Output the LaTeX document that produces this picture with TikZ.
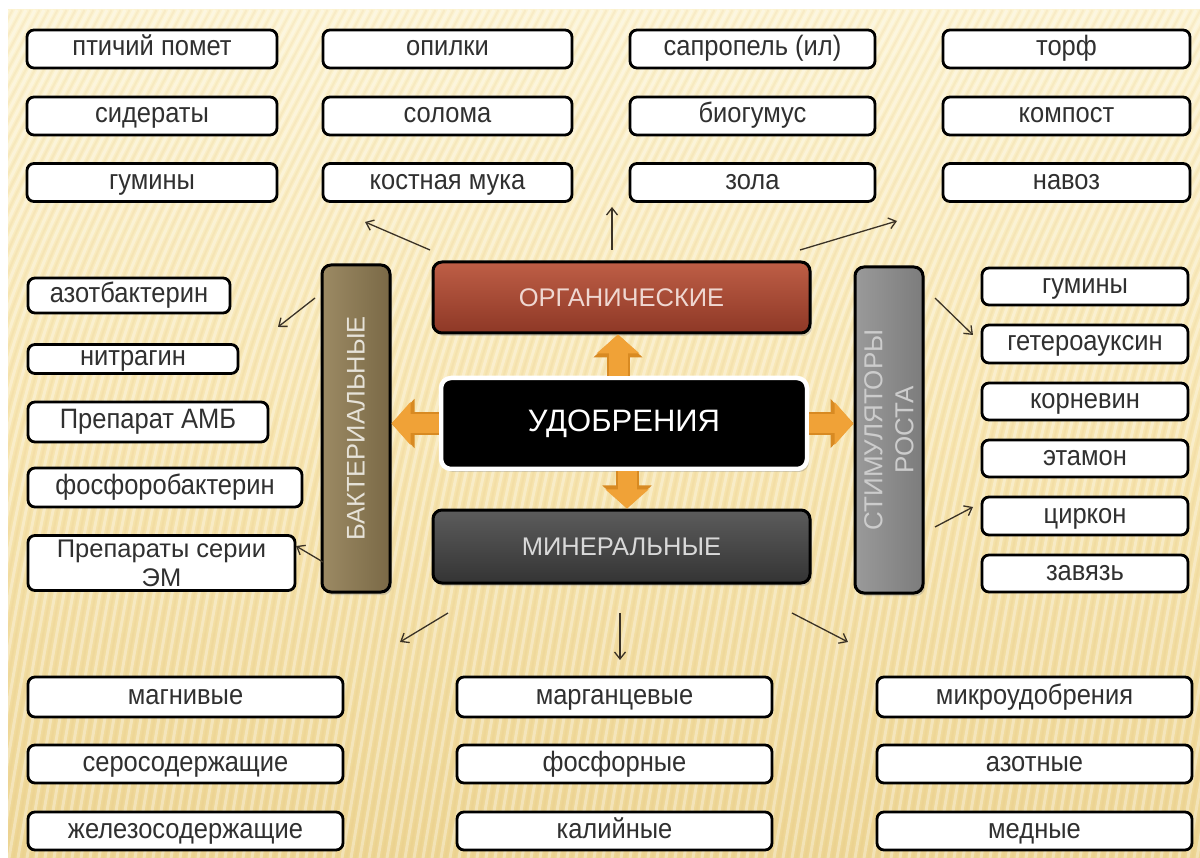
\documentclass[tikz,border=0pt]{standalone}
\usepackage{fontspec}
\setmainfont{Liberation Sans}
\usetikzlibrary{arrows.meta,shadows,calc}
\definecolor{bgtop}{HTML}{FCF3D2}
\definecolor{bgmid}{HTML}{F7E5B0}
\definecolor{bgbot}{HTML}{EDD593}
\definecolor{txt}{HTML}{303030}
\definecolor{orgtop}{HTML}{BE5E46}
\definecolor{orgbot}{HTML}{8E3826}
\definecolor{mintop}{HTML}{5C5C5C}
\definecolor{minbot}{HTML}{343434}
\definecolor{baktop}{HTML}{9C8A64}
\definecolor{bakbot}{HTML}{7A6946}
\definecolor{stitop}{HTML}{9A9A9A}
\definecolor{stibot}{HTML}{7C7C7C}
\definecolor{arrorange}{HTML}{F0A237}
\definecolor{arredge}{HTML}{D88A22}
\definecolor{thinarr}{HTML}{3A3226}
\newcommand{\wnode}[6]{\node[wb, minimum width=#4pt, minimum height=#5pt] (#1) at (#2,#3) {\scalebox{1}[1.1]{#6}};}
\tikzset{
  wb/.style={draw=black, fill=white, line width=2.8pt, rounded corners=7pt, inner sep=0pt,
    text=txt, font=\fontsize{25.5}{29}\selectfont, text height=14pt, text depth=0pt},
  bigbox/.style={draw=black, line width=3pt, rounded corners=9pt, inner sep=0pt,
    drop shadow={opacity=0.3, shadow xshift=2pt, shadow yshift=-3pt}},
  blockedge/.style={line width=23pt, color=arredge, -{Triangle[width=48pt,length=23pt]}},
  blockarr/.style={line width=19pt, color=arrorange, -{Triangle[width=42pt,length=19pt]}},
  thin/.style={draw=thinarr, line width=1.3pt, -{Straight Barb[length=7pt,width=11pt]}},
}
\begin{document}
\begin{tikzpicture}[x=1pt,y=-1pt]
\useasboundingbox (0,0) rectangle (1200,858);
\fill[white] (0,0) rectangle (1200,858);
% background
\fill[top color=bgtop, bottom color=bgbot, middle color=bgmid] (8,10) rectangle (1200,858);
\begin{scope}
\clip (8,10) rectangle (1200,858);
\foreach \i in {-40,...,150} {
  \draw[white, opacity=0.32, line width=3pt] ({\i*9+260},10) .. controls ({\i*9+90},330) .. ({\i*9},858);
  \draw[bgbot!75!brown, opacity=0.14, line width=2pt] ({\i*9+264.5},10) .. controls ({\i*9+94.5},330) .. ({\i*9+4.5},858);
}
\end{scope}

% top boxes
\wnode{t11}{152}{49}{250}{38}{птичий помет}
\wnode{t12}{152}{116}{250}{38}{сидераты}
\wnode{t13}{152}{182.5}{250}{38}{гумины}
\wnode{t21}{447.5}{49}{249}{38}{опилки}
\wnode{t22}{447.5}{116}{249}{38}{солома}
\wnode{t23}{447.5}{182.5}{249}{38}{костная мука}
\wnode{t31}{752.5}{49}{245}{38}{сапропель (ил)}
\wnode{t32}{752.5}{116}{245}{38}{биогумус}
\wnode{t33}{752.5}{182.5}{245}{38}{зола}
\wnode{t41}{1066.5}{49}{247}{38}{торф}
\wnode{t42}{1066.5}{116}{247}{38}{компост}
\wnode{t43}{1066.5}{182.5}{247}{38}{навоз}

% left boxes
\wnode{l1}{129}{295.5}{202}{35}{азотбактерин}
\wnode{l2}{133}{359}{210}{29}{нитрагин}
\wnode{l3}{148}{422}{240}{40}{Препарат АМБ}
\wnode{l4}{165}{487.5}{274}{39}{фосфоробактерин}
\node[wb, minimum width=267pt, minimum height=55pt, align=center, text height=, text depth=,
  font=\fontsize{25.5}{30}\selectfont] (l5) at (161.5,563) {Препараты серии\\[-1pt]ЭМ};

% right boxes
\wnode{r1}{1085}{286.5}{206}{37}{гумины}
\wnode{r2}{1085}{344}{206}{38}{гетероауксин}
\wnode{r3}{1085}{401.5}{206}{37}{корневин}
\wnode{r4}{1085}{458.5}{206}{37}{этамон}
\wnode{r5}{1085}{516}{206}{38}{циркон}
\wnode{r6}{1085}{573.5}{206}{37}{завязь}

% bottom boxes
\wnode{b11}{185.5}{697}{315}{40}{магнивые}
\wnode{b12}{185.5}{764}{315}{38}{серосодержащие}
\wnode{b13}{185.5}{831}{315}{38}{железосодержащие}
\wnode{b21}{614.5}{697}{315}{40}{марганцевые}
\wnode{b22}{614.5}{764}{315}{38}{фосфорные}
\wnode{b23}{614.5}{831}{315}{38}{калийные}
\wnode{b31}{1034.5}{697}{315}{40}{микроудобрения}
\wnode{b32}{1034.5}{764}{315}{38}{азотные}
\wnode{b33}{1034.5}{831}{315}{38}{медные}

% central boxes
\node[bigbox, top color=orgtop, bottom color=orgbot, minimum width=377pt, minimum height=71pt,
  text=orgtop!25!white, font=\fontsize{25.5}{28}\selectfont] (org) at (621.5,297.5) {ОРГАНИЧЕСКИЕ};
\node[bigbox, top color=mintop, bottom color=minbot, minimum width=377pt, minimum height=73pt,
  text=white!85!black, font=\fontsize{25.5}{28}\selectfont] (min) at (621.5,546.5) {МИНЕРАЛЬНЫЕ};
\node[bigbox, left color=baktop, right color=bakbot, rotate=90, minimum width=327pt, minimum height=68pt,
  text=baktop!25!white, font=\fontsize{25.5}{28}\selectfont] (bakt) at (356,428.5) {БАКТЕРИАЛЬНЫЕ};
\node[bigbox, left color=stitop, right color=stibot, rotate=90, minimum width=326pt, minimum height=68pt,
  align=center, text=white!80!black, font=\fontsize{26}{31}\selectfont] (stim) at (889,430) {СТИМУЛЯТОРЫ\\РОСТА};
\node[draw=white, fill=black, line width=4.5pt, rounded corners=10pt, minimum width=366pt, minimum height=91pt,
  inner sep=0pt, text=white, font=\fontsize{31}{34}\selectfont,
  drop shadow={opacity=0.35, shadow xshift=2pt, shadow yshift=-3pt}] (udob) at (624,423.5) {УДОБРЕНИЯ};

% block arrows
\foreach \st in {blockedge,blockarr} {
  \draw[\st] ([xshift=-6pt]udob.north) -- ([xshift=-6pt]udob.north |- org.south);
  \draw[\st] ([xshift=3pt]udob.south) -- ([xshift=3pt]udob.south |- min.north);
  \draw[\st] (udob.west) -- (udob.west -| bakt.south);
  \draw[\st] (udob.east) -- (udob.east -| stim.north);
}

% thin arrows
\coordinate (a1s) at (430,250); \coordinate (a1e) at (365,222);
\coordinate (a2s) at (612,250); \coordinate (a2e) at (612,207);
\coordinate (a3s) at (800,250); \coordinate (a3e) at (897,221);
\coordinate (a4s) at (315,298); \coordinate (a4e) at (278,327);
\coordinate (a5s) at (323,562); \coordinate (a5e) at (296,546);
\coordinate (a6s) at (935,298); \coordinate (a6e) at (973,335);
\coordinate (a7s) at (935,527); \coordinate (a7e) at (973,507);
\coordinate (a8s) at (448,613); \coordinate (a8e) at (400,642);
\coordinate (a9s) at (620,613); \coordinate (a9e) at (620,660);
\coordinate (a10s) at (792,613); \coordinate (a10e) at (848,642);
\foreach \k in {1,...,10} { \draw[thin] (a\k s) -- (a\k e); }
\end{tikzpicture}
\end{document}
